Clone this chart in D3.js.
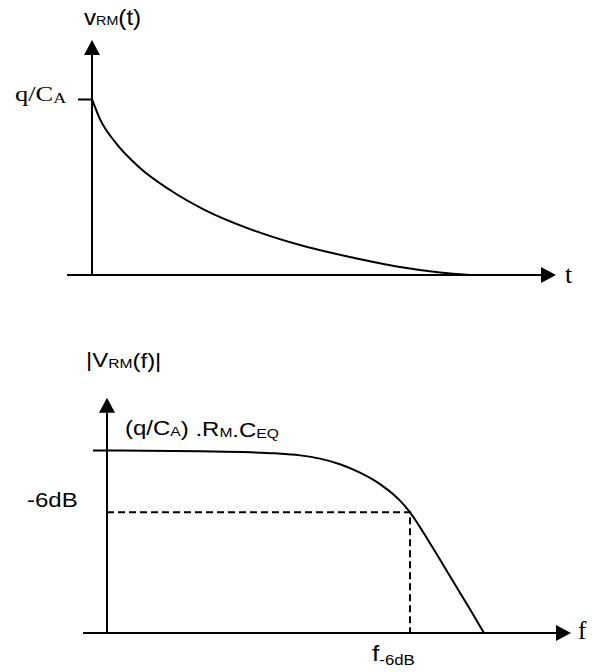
<!DOCTYPE html>
<html>
<head>
<meta charset="utf-8">
<script src="https://cdn.jsdelivr.net/npm/d3@7"></script>
<style>
  body { margin: 0; background: #fff; }
  svg { display: block; }
  .sans { font-family: "Liberation Sans", Arial, sans-serif; }
  .serif { font-family: "Liberation Serif", "Times New Roman", serif; }
</style>
</head>
<body>
<div id="chart"></div>
<script>
// top plot: v_RM(t) (t and v in 0..100 units)
var tVals = [0, 2, 5.75, 12, 19.5, 28.25, 39.5, 52, 64.5, 77, 87, 94.5];
var vVals = [100, 88.6, 75.6, 60.8, 48.3, 36.9, 26.1, 17, 10.2, 4.5, 1.4, 0];

// bottom plot: |V_RM(f)|
var fVals = [-3.5, 23.25, 35.75, 42, 48.25, 53.25, 58.25, 63.25, 68.25, 73.25, 75.75, 80.75, 85.75, 90.75, 94.25];
var magVals = [100.3, 99.8, 99.3, 98.7, 97.6, 95.8, 92.7, 88.1, 81.8, 72.7, 66.3, 49.3, 31.2, 13, 0];

// -6dB reference point
var fCut = 75.75;
var magCut = 66.3;

// axis extents (data units)
var tAxis = [-6.25, 112.25];
var vAxis = [-0.5, 125];
var fAxis = [-6, 112.25];
var magAxis = [0, 121];

var width = 597, height = 672;

var svg = d3.select('#chart').append('svg')
    .attr('width', width)
    .attr('height', height);

// arrow head
svg.append('defs').append('marker')
    .attr('id', 'arrow')
    .attr('viewBox', '0 0 15 16')
    .attr('refX', 0)
    .attr('refY', 8)
    .attr('markerWidth', 15)
    .attr('markerHeight', 16)
    .attr('markerUnits', 'userSpaceOnUse')
    .attr('orient', 'auto')
  .append('path')
    .attr('d', 'M0,0L15,8L0,16Z')
    .attr('fill', '#000');

function drawAxes(x, y, xExt, yExt) {
  svg.append('line')
     .attr('x1', x(xExt[0])).attr('y1', y(0))
     .attr('x2', x(xExt[1])).attr('y2', y(0))
     .attr('stroke', '#000').attr('stroke-width', 2)
     .attr('marker-end', 'url(#arrow)');
  svg.append('line')
     .attr('x1', x(0)).attr('y1', y(yExt[0]))
     .attr('x2', x(0)).attr('y2', y(yExt[1]))
     .attr('stroke', '#000').attr('stroke-width', 2)
     .attr('marker-end', 'url(#arrow)');
}

// text with subscripts: parts = [[text, isSub, drop], ...]
function label(x, y, cls, size, subSize, parts, stretch) {
  var t = svg.append('text')
     .attr('class', cls)
     .attr('transform', 'translate(' + x + ',' + y + ') scale(' + (stretch || 1) + ',1)')
     .attr('font-size', size);
  parts.forEach(function (p) {
    t.append('tspan')
     .attr('font-size', p[1] ? subSize : size)
     .attr('dy', p[1] ? p[2] || 0 : 0)
     .text(p[0]);
    if (p[1] && p[2]) {
      t.append('tspan').attr('dy', -p[2]).text('');
    }
  });
  return t;
}

// ---- top plot ----
var tScale = d3.scaleLinear().domain([0, 100]).range([92, 492]);
var vScale = d3.scaleLinear().domain([0, 100]).range([275, 99]);

drawAxes(tScale, vScale, tAxis, vAxis);

svg.append('g')
   .attr('transform', 'translate(' + tScale(0) + ',0)')
   .call(d3.axisLeft(vScale).tickValues([100]).tickSize(14).tickFormat(''))
   .call(function (g) { g.select('.domain').remove(); })
   .selectAll('line').attr('stroke', '#000').attr('stroke-width', 2);

svg.append('path')
   .datum(tVals.map(function (d, i) { return [d, vVals[i]]; }))
   .attr('fill', 'none')
   .attr('stroke', '#000')
   .attr('stroke-width', 2)
   .attr('d', d3.line()
      .x(function (d) { return tScale(d[0]); })
      .y(function (d) { return vScale(d[1]); })
      .curve(d3.curveMonotoneX));

label(84, 25, 'sans', 22, 13, [['v'], ['RM', true], ['(t)']], 1.1);
label(15, 101, 'serif', 22, 15, [['q/C'], ['A', true, 2]], 1.2);
label(565, 283, 'serif', 26, 26, [['t']]);

// ---- bottom plot ----
var fScale = d3.scaleLinear().domain([0, 100]).range([107, 507]);
var magScale = d3.scaleLinear().domain([0, 100]).range([633, 451]);

drawAxes(fScale, magScale, fAxis, magAxis);

svg.append('path')
   .datum([[0, magCut], [fCut, magCut], [fCut, 0]])
   .attr('fill', 'none')
   .attr('stroke', '#000')
   .attr('stroke-width', 2)
   .attr('stroke-dasharray', '7,4')
   .attr('d', d3.line()
      .x(function (d) { return fScale(d[0]); })
      .y(function (d) { return magScale(d[1]); }));

svg.append('path')
   .datum(fVals.map(function (d, i) { return [d, magVals[i]]; }))
   .attr('fill', 'none')
   .attr('stroke', '#000')
   .attr('stroke-width', 2)
   .attr('d', d3.line()
      .x(function (d) { return fScale(d[0]); })
      .y(function (d) { return magScale(d[1]); })
      .curve(d3.curveMonotoneX));

label(86, 367, 'sans', 20, 13, [['|V'], ['RM', true, 1], ['(f)|']], 1.2);
label(125, 435, 'sans', 20, 13, [['(q/C'], ['A', true, 1], [') .R'], ['M', true, 1], ['.C'], ['EQ', true, 1]], 1.2);
label(27, 507, 'sans', 20, 20, [['-6dB']], 1.2);
label(578, 639, 'serif', 25, 25, [['f']]);
label(372, 661, 'sans', 22, 14, [['f'], ['-6dB', true, 4]], 1.2);
</script>
</body>
</html>
